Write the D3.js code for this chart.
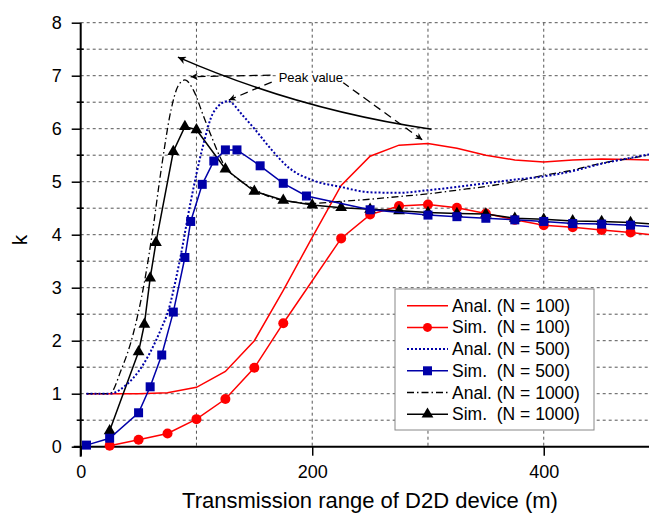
<!DOCTYPE html>
<html><head><meta charset="utf-8">
<script src="https://cdn.jsdelivr.net/npm/d3@7"></script>
<style>
html,body{margin:0;padding:0;background:#fff;overflow:hidden;}
text{font-family:"Liberation Sans",Arial,sans-serif;}
</style></head>
<body>
<svg id="chart" width="649" height="525"></svg>
<script>
// ---- data ----
const xAnal100 = [5,25,50,75,100,125,150,175,200,225,250,275,300,325,350,375,400,425,450,475,500];
const yAnal100 = [1.0,1.0,1.0,1.02,1.12,1.42,2.0,2.95,3.95,4.93,5.48,5.69,5.72,5.63,5.50,5.41,5.37,5.41,5.43,5.42,5.40];
const xSim100 = [25,50,75,100,125,150,175,225,250,275,300,325,350,375,400,425,450,475,500];
const ySim100 = [0.02,0.13,0.25,0.52,0.9,1.49,2.33,3.93,4.38,4.54,4.57,4.51,4.40,4.28,4.18,4.14,4.09,4.04,3.98];
const xAnal500 = [5,25,40,50,60,70,75,85,95,105,115,127,140,150,165,180,200,225,250,275,300,325,350,375,400,425,450,475,500];
const yAnal500 = [1,1,1.18,1.42,1.78,2.25,2.52,3.45,4.62,5.62,6.32,6.52,6.25,6.0,5.6,5.26,5.03,4.9,4.8,4.79,4.84,4.9,4.97,5.04,5.1,5.2,5.34,5.45,5.55];
const xSim500 = [5,25,50,60,70,80,90,95,105,115,125,135,155,175,195,250,300,325,350,375,400,425,450,475,500];
const ySim500 = [0.03,0.16,0.64,1.13,1.73,2.54,3.57,4.25,4.95,5.39,5.6,5.6,5.3,4.97,4.73,4.47,4.37,4.34,4.31,4.28,4.25,4.21,4.20,4.18,4.14];
const xAnal1000 = [5,25,35,45,55,62,70,78,84,90,98,105,113,123,137,150,165,183,200,225,250,275,300,325,350,375,400,425,450,475,500];
const yAnal1000 = [1,1,1.45,2.1,3.1,4.05,5.3,6.35,6.8,6.92,6.7,6.3,5.85,5.35,5.03,4.86,4.7,4.62,4.59,4.63,4.67,4.72,4.77,4.84,4.91,5.0,5.12,5.22,5.35,5.44,5.54];
const xSim1000 = [25,50,55,60,65,80,90,100,125,150,175,200,225,250,275,300,325,350,375,400,425,450,475,500];
const ySim1000 = [0.3,1.79,2.31,3.18,3.85,5.57,6.04,5.98,5.24,4.82,4.65,4.56,4.51,4.48,4.45,4.42,4.40,4.39,4.31,4.29,4.26,4.25,4.23,4.19];
const legendLabels = ["Anal. (N = 100)","Sim.  (N = 100)","Anal. (N = 500)","Sim.  (N = 500)","Anal. (N = 1000)","Sim.  (N = 1000)"];
const xTickLabels = [0,200,400];
const yTickLabels = [0,1,2,3,4,5,6,7,8];
// annotation anchor points (data units)
const peakText = {x:171, y:6.95, label:"Peak value"};
const peakArrows = [
  {from:[164,7.01], to:[95,6.98]},
  {from:[165,6.88], to:[128,6.54]},
  {from:[226,6.88], to:[295,5.79]}
];
const trendArrow = {from:[303,5.99], ctrl:[189,6.35], to:[84,7.35]};

// ---- layout ----
const svg = d3.select("#chart");
const x = d3.scaleLinear().domain([0,500]).range([80.7,659.5]);
const y = d3.scaleLinear().domain([0,8]).range([446.7,22.7]);

const defs = svg.append("defs");
function mk(id, w, h){
  defs.append("marker").attr("id",id).attr("viewBox","0 0 10 10").attr("refX",10).attr("refY",5)
   .attr("markerWidth",w).attr("markerHeight",h).attr("markerUnits","userSpaceOnUse").attr("orient","auto")
   .append("path").attr("d","M0,0 L10,5 L0,10 L3,5 Z").attr("fill","#000");
}
mk("ah",11,8);
mk("ahs",9,7);

// grid
const grid = svg.append("g").attr("stroke","#555").attr("stroke-width",1).attr("stroke-dasharray","3,3");
d3.range(0.5,8.01,0.5).forEach(v=>{
  grid.append("line").attr("x1",x(0)).attr("x2",649).attr("y1",y(v)).attr("y2",y(v));
});
[100,200,300,400,500].forEach(v=>{
  grid.append("line").attr("x1",x(v)).attr("x2",x(v)).attr("y1",y(8)).attr("y2",y(0));
});

// axes
const yAxis = d3.axisLeft(y).tickValues(yTickLabels).tickSize(9).tickPadding(10).tickFormat(d3.format("d"));
const gy = svg.append("g").attr("transform",`translate(${x(0)},0)`).call(yAxis);
gy.select(".domain").remove();
gy.selectAll("text").attr("font-size",18).attr("fill","#000");
gy.selectAll("line").attr("stroke","#000").attr("stroke-width",1.5);
// minor y ticks
svg.append("g").selectAll("line").data(d3.range(0.5,8,1)).join("line")
  .attr("x1",x(0)-4).attr("x2",x(0)+3).attr("y1",d=>y(d)).attr("y2",d=>y(d)).attr("stroke","#000").attr("stroke-width",1.5);

const xAxis = d3.axisBottom(x).tickValues(xTickLabels).tickSize(9).tickPadding(10).tickFormat(d3.format("d"));
const gx = svg.append("g").attr("transform",`translate(0,${y(0)})`).call(xAxis);
gx.select(".domain").remove();
gx.selectAll("text").attr("font-size",18).attr("fill","#000");
gx.selectAll("line").attr("stroke","#000").attr("stroke-width",1.5);

svg.append("line").attr("x1",x(0)).attr("x2",x(0)).attr("y1",y(8)).attr("y2",y(0)+10).attr("stroke","#000").attr("stroke-width",2);
svg.append("line").attr("x1",x(0)-7).attr("x2",660).attr("y1",y(0)).attr("y2",y(0)).attr("stroke","#000").attr("stroke-width",2);

// axis titles
svg.append("text").attr("x",370).attr("y",508).attr("text-anchor","middle").attr("font-size",22).text("Transmission range of D2D device (m)");
svg.append("text").attr("transform","translate(27,240) rotate(-90)").attr("text-anchor","middle").attr("font-size",21).text("k");

// series
const RED="#ff0000", BLUE="#0000a8", BLK="#000";
function pts(xs,ys){return xs.map((v,i)=>[v,ys[i]]);}
const lin = d3.line().x(d=>x(d[0])).y(d=>y(d[1]));
const smooth = d3.line().x(d=>x(d[0])).y(d=>y(d[1])).curve(d3.curveMonotoneX);
const plot = svg.append("g");

plot.append("path").attr("d",lin(pts(xAnal100,yAnal100))).attr("fill","none").attr("stroke",RED).attr("stroke-width",1.5);
plot.append("path").attr("d",lin(pts(xSim100,ySim100))).attr("fill","none").attr("stroke",RED).attr("stroke-width",1.5);
plot.append("g").selectAll("circle").data(pts(xSim100,ySim100)).join("circle")
  .attr("cx",d=>x(d[0])).attr("cy",d=>y(d[1])).attr("r",5).attr("fill",RED);

plot.append("path").attr("d",smooth(pts(xAnal1000,yAnal1000))).attr("fill","none").attr("stroke",BLK).attr("stroke-width",1.3).attr("stroke-dasharray","7,3,1.5,3");
plot.append("path").attr("d",lin(pts(xSim1000,ySim1000))).attr("fill","none").attr("stroke",BLK).attr("stroke-width",1.5);
const tri = d3.symbol().type(d3.symbolTriangle).size(60);
plot.append("g").selectAll("path").data(pts(xSim1000,ySim1000)).join("path")
  .attr("transform",d=>`translate(${x(d[0])},${y(d[1])})`).attr("d",tri).attr("fill",BLK);

plot.append("path").attr("d",smooth(pts(xAnal500,yAnal500))).attr("fill","none").attr("stroke",BLUE).attr("stroke-width",2).attr("stroke-dasharray","2,2");
plot.append("path").attr("d",lin(pts(xSim500,ySim500))).attr("fill","none").attr("stroke",BLUE).attr("stroke-width",1.5);
plot.append("g").selectAll("rect").data(pts(xSim500,ySim500)).join("rect")
  .attr("x",d=>x(d[0])-4.5).attr("y",d=>y(d[1])-4.5).attr("width",9).attr("height",9).attr("fill",BLUE);

// annotations
const ann = svg.append("g");
const tp = d3.path();
tp.moveTo(x(trendArrow.from[0]),y(trendArrow.from[1]));
tp.quadraticCurveTo(x(trendArrow.ctrl[0]),y(trendArrow.ctrl[1]),x(trendArrow.to[0]),y(trendArrow.to[1]));
ann.append("path").attr("d",tp.toString()).attr("fill","none").attr("stroke","#000").attr("stroke-width",1.5).attr("marker-end","url(#ah)");
peakArrows.forEach(a=>{
  ann.append("line").attr("x1",x(a.from[0])).attr("y1",y(a.from[1])).attr("x2",x(a.to[0])).attr("y2",y(a.to[1]))
    .attr("stroke","#000").attr("stroke-width",1.3).attr("stroke-dasharray","8,5").attr("marker-end","url(#ahs)");
});
ann.append("text").attr("x",x(peakText.x)).attr("y",y(peakText.y)+4).attr("font-size",13).text(peakText.label)
  .attr("stroke","#fff").attr("stroke-width",4).attr("paint-order","stroke");

// legend
const lg = svg.append("g");
lg.append("rect").attr("x",395).attr("y",289).attr("width",199).attr("height",141).attr("fill","#fff").attr("stroke","#888").attr("stroke-width",1);
const rowY = d3.range(6).map(i=>305.7+i*21.7);
const styles = [
  {c:RED,w:1.5,dash:null,m:null},
  {c:RED,w:1.5,dash:null,m:"circle"},
  {c:BLUE,w:2,dash:"2,2",m:null},
  {c:BLUE,w:1.5,dash:null,m:"square"},
  {c:BLK,w:1.3,dash:"7,3,1.5,3",m:null},
  {c:BLK,w:1.5,dash:null,m:"triangle"}
];
legendLabels.forEach((lab,i)=>{
  const s=styles[i], yy=rowY[i];
  lg.append("line").attr("x1",407).attr("x2",448).attr("y1",yy).attr("y2",yy).attr("stroke",s.c).attr("stroke-width",s.w).attr("stroke-dasharray",s.dash);
  if(s.m==="circle") lg.append("circle").attr("cx",427.5).attr("cy",yy).attr("r",4.5).attr("fill",s.c);
  if(s.m==="square") lg.append("rect").attr("x",423).attr("y",yy-4.5).attr("width",9).attr("height",9).attr("fill",s.c);
  if(s.m==="triangle") lg.append("path").attr("transform",`translate(427.5,${yy})`).attr("d",tri).attr("fill",s.c);
  lg.append("text").attr("x",452).attr("y",yy+6).attr("font-size",17.5).attr("xml:space","preserve").style("white-space","pre").text(lab);
});
</script>
</body></html>
